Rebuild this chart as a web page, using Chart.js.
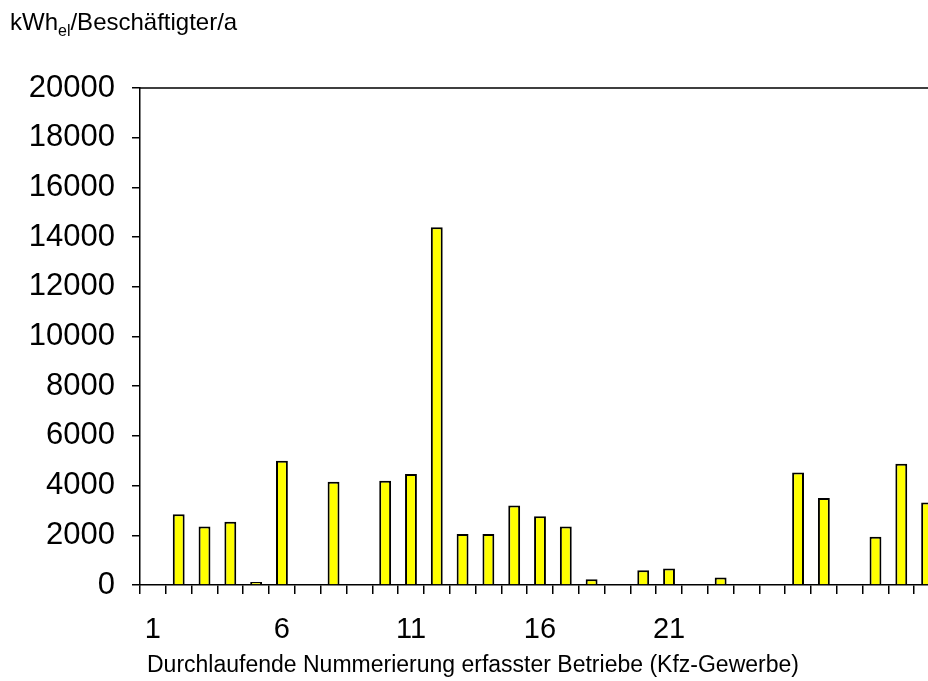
<!DOCTYPE html>
<html>
<head>
<meta charset="utf-8">
<script src="https://cdn.jsdelivr.net/npm/chart.js@4.4.1/dist/chart.umd.min.js"></script>
<style>
  html, body { margin: 0; padding: 0; overflow: hidden; background: #fff; width: 928px; height: 681px; }
  #wrap { position: relative; width: 928px; height: 681px; overflow: hidden; }
  #chartBar { position: absolute; left: 0; top: 0; }
  .lbl { position: absolute; font-family: "Liberation Sans", Arial, sans-serif; color: #000; white-space: nowrap; }
  #unit { left: 10px; top: 10px; font-size: 24px; line-height: 24px; }
  #unit sub { font-size: 16px; vertical-align: -6px; line-height: 0; }
  #xtitle { left: 147px; top: 653px; font-size: 23px; line-height: 23px; }
</style>
</head>
<body>
<div id="wrap">
  <canvas id="chartBar" width="960" height="681"></canvas>
  <div class="lbl" id="unit">kWh<sub>el</sub>/Beschäftigter/a</div>
  <div class="lbl" id="xtitle">Durchlaufende Nummerierung erfasster Betriebe (Kfz-Gewerbe)</div>
</div>
<script>
// Betriebe 1..31 (rechts angeschnitten wie im Original)
const betriebe = ['1','2','3','4','5','6','7','8','9','10','11','12','13','14','15','16',
  '17','18','19','20','21','22','23','24','25','26','27','28','29','30','31'];
const stromJeBeschaeftigten = [0, 2850, 2350, 2550, 120, 5000, 0, 4150, 0, 4200, 4470, 14400,
  2050, 2050, 3200, 2770, 2350, 230, 0, 590, 660, 0, 300, 0, 0, 4530, 3500, 0, 1940, 4880, 3320];
const xTickLabels = ['1', '6', '11', '16', '21'];
const yTicks = [0, 2000, 4000, 6000, 8000, 10000, 12000, 14000, 16000, 18000, 20000];

const frame = {
  id: 'frame',
  afterDraw(chart) {
    const a = chart.chartArea, c = chart.ctx;
    c.save();
    c.strokeStyle = '#000';
    c.lineWidth = 1.5;
    c.beginPath();
    c.moveTo(a.left, a.top);
    c.lineTo(a.right, a.top);
    c.lineTo(a.right, a.bottom);
    c.stroke();
    c.restore();
  }
};

var ctx = document.getElementById('chartBar').getContext('2d');
var chart = new Chart(ctx, {
  type: 'bar',
  data: {
    labels: betriebe,
    datasets: [{
      data: stromJeBeschaeftigten,
      backgroundColor: '#ffff00',
      borderColor: '#000',
      borderWidth: 2,
      barPercentage: 0.46,
      categoryPercentage: 1
    }]
  },
  options: {
    responsive: false,
    animation: false,
    layout: { padding: { left: 0, top: 88, right: 20, bottom: 0 } },
    plugins: { legend: { display: false }, tooltip: { enabled: false } },
    scales: {
      x: {
        offset: true,
        grid: { offset: true, drawOnChartArea: false, drawTicks: true, tickLength: 9, color: '#000', lineWidth: 1.5 },
        border: { color: '#000', width: 1.5 },
        ticks: {
          autoSkip: false, maxRotation: 0, padding: 19, color: '#000',
          font: { family: 'Liberation Sans', size: 29 },
          callback: function (v) {
            const l = this.getLabelForValue(v);
            return xTickLabels.includes(l) ? l : '';
          }
        },
        afterFit: s => { s.height = 96; }
      },
      y: {
        min: 0, max: 20000,
        afterBuildTicks: s => { s.ticks = yTicks.map(v => ({ value: v })); },
        grid: { drawOnChartArea: false, drawTicks: true, tickLength: 8, color: '#000', lineWidth: 1.5 },
        border: { color: '#000', width: 1.5 },
        ticks: {
          padding: 17, color: '#000', font: { family: 'Liberation Sans', size: 31 },
          callback: v => String(v)
        },
        afterFit: s => { s.width = 140; }
      }
    }
  },
  plugins: [frame]
});
</script>
</body>
</html>
